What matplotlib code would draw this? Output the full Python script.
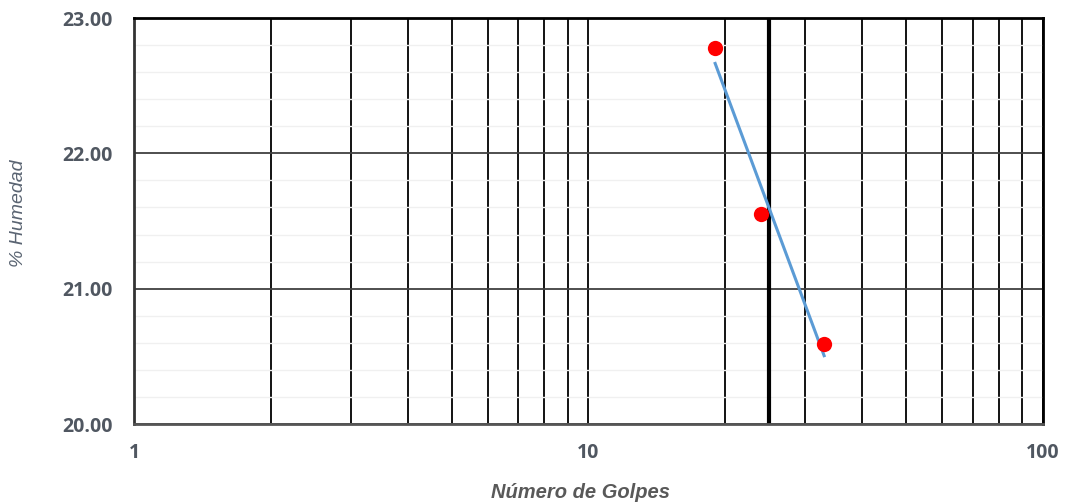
import numpy as np
import matplotlib
matplotlib.use("Agg")
import matplotlib.pyplot as plt
from matplotlib.ticker import FixedLocator, NullFormatter, FuncFormatter

# Ensayo de límite líquido: golpes vs. contenido de humedad
golpes = [19, 24, 33]
humedad = [22.78, 21.55, 20.59]
golpes_ref = 25
x_ticks = [1, 10, 100]
y_ticks = [20.0, 21.0, 22.0, 23.0]

plt.rcParams['font.family'] = ['Open Sans', 'DejaVu Sans']

fig = plt.figure(figsize=(10.65, 5.03), dpi=100)
ax = fig.add_axes([0.1258, 0.157, 0.8535, 0.8072])

ax.set_xscale('log')
ax.set_xlim(1, 100)
ax.set_ylim(20, 23)

# Cuadrícula vertical en cada entero de la escala logarítmica
ax.xaxis.set_major_locator(FixedLocator(x_ticks))
minor_x = [k * d for d in (1, 10) for k in range(2, 10)]
ax.xaxis.set_minor_locator(FixedLocator(minor_x))
ax.xaxis.set_minor_formatter(NullFormatter())
ax.xaxis.set_major_formatter(FuncFormatter(lambda v, p: f"{v:g}"))
ax.grid(True, which='major', axis='x', color='black', linewidth=1.3)
ax.grid(True, which='minor', axis='x', color='black', linewidth=1.3)

# Cuadrícula horizontal: principales cada 1.00, secundarias cada 0.20
ax.yaxis.set_major_locator(FixedLocator(y_ticks))
ax.yaxis.set_minor_locator(FixedLocator(np.arange(20.2, 23.0, 0.2)))
ax.yaxis.set_major_formatter(FuncFormatter(lambda v, p: f"{v:.2f}"))
ax.grid(True, which='major', axis='y', color='#404040', linewidth=1.3)
ax.grid(True, which='minor', axis='y', color='#f0f0f0', linewidth=1.0)
ax.set_axisbelow(True)

ax.tick_params(which='both', length=0)
ax.tick_params(axis='y', pad=15)
ax.tick_params(axis='x', pad=14)
for lbl in ax.get_xticklabels() + ax.get_yticklabels():
    lbl.set_fontweight('bold')
    lbl.set_fontsize(14)
    lbl.set_color('#505761')

for side in ('top', 'right'):
    ax.spines[side].set_color('black')
    ax.spines[side].set_linewidth(2.0)
ax.spines['left'].set_color('#333333')
ax.spines['left'].set_linewidth(2.0)
ax.spines['bottom'].set_color('#555555')
ax.spines['bottom'].set_linewidth(2.0)

# Línea de 25 golpes
ax.axvline(golpes_ref, color='black', linewidth=3.0, zorder=2)

# Línea de tendencia logarítmica
lx = np.log(golpes)
m, b = np.polyfit(lx, humedad, 1)
xt = np.array([min(golpes), max(golpes)])
ax.plot(xt, m * np.log(xt) + b, color='#5b9bd5', linewidth=2.2, zorder=3)

ax.plot(golpes, humedad, 'o', color='#ff0000', markersize=11, zorder=4,
        markeredgewidth=0)

fig.text(0.5455, 0.020, 'Número de Golpes', ha='center', va='center',
         family=['Liberation Sans', 'DejaVu Sans'], fontstyle='italic',
         fontweight='bold', fontsize=14.5, color='#595959')
fig.text(0.0178, 0.5765, '% Humedad', ha='center', va='center', rotation=90,
         family=['Liberation Sans', 'DejaVu Sans'], fontstyle='italic',
         fontsize=14, color='#5a6472')

fig.savefig('out.png', dpi=100)
